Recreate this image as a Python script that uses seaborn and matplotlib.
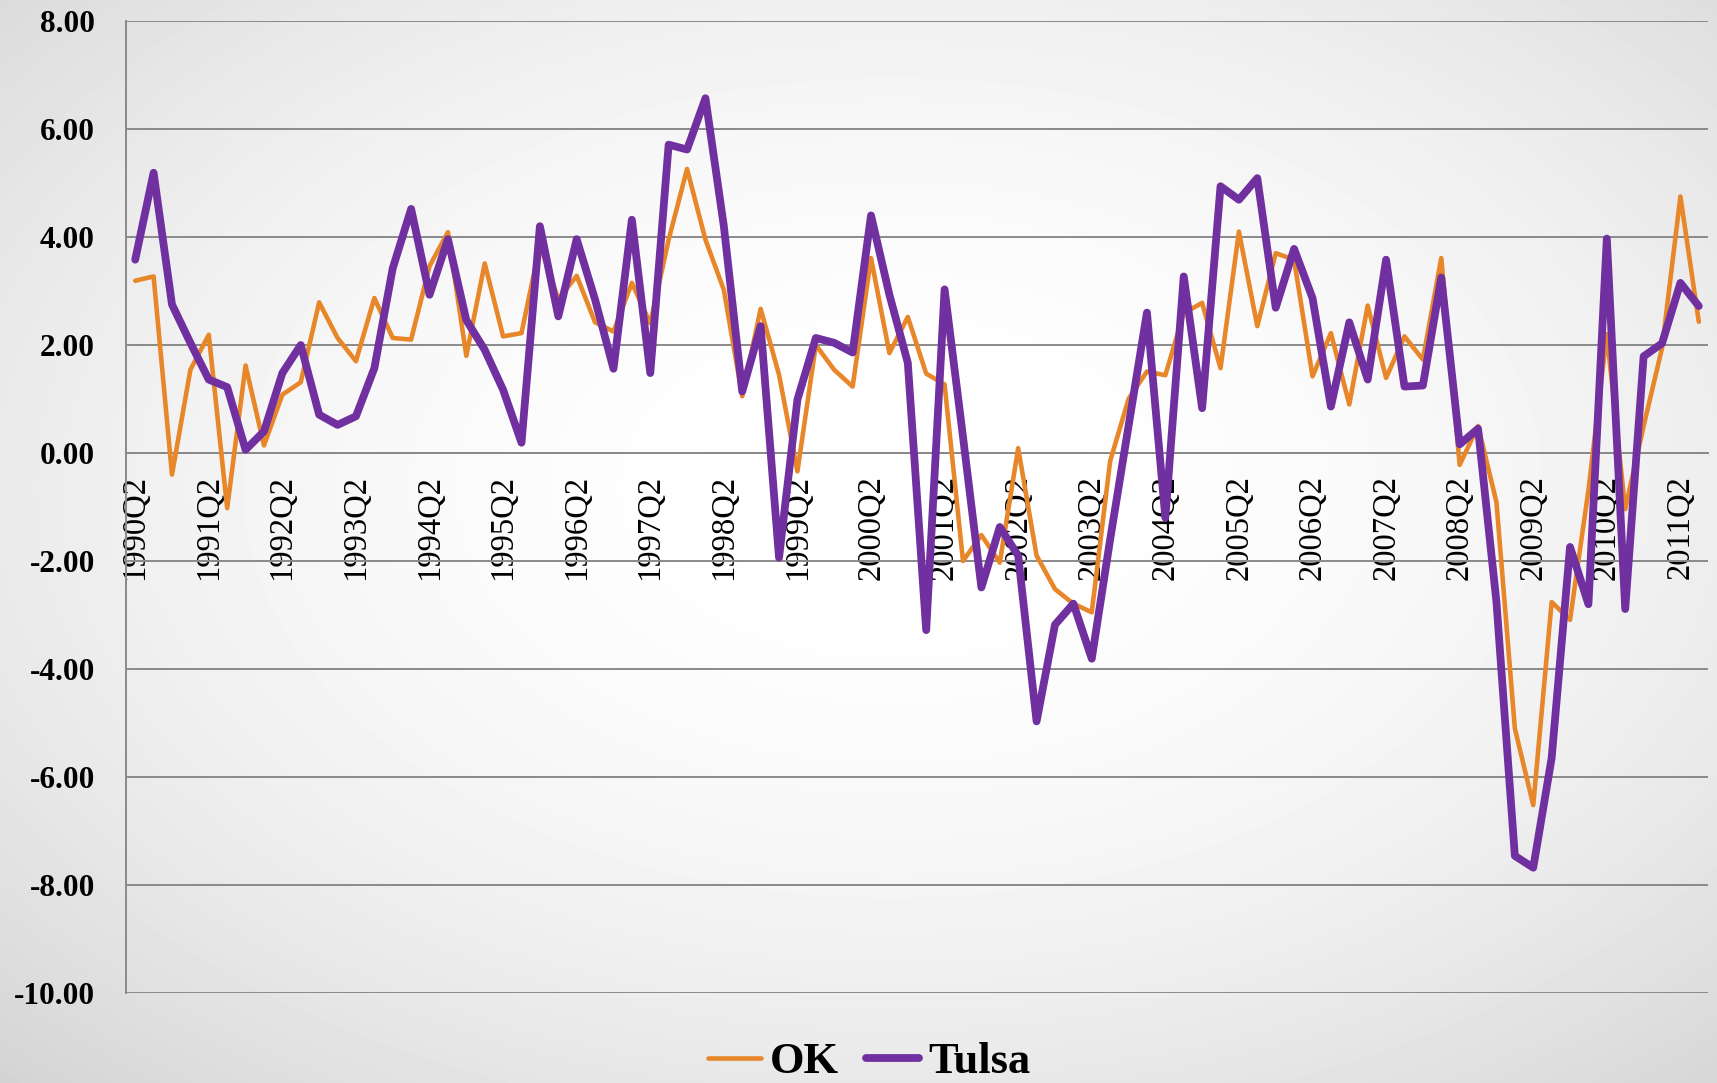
import numpy as np
import pandas as pd
import matplotlib
matplotlib.use("Agg")
import matplotlib.pyplot as plt
import seaborn as sns

# ---------------- data ----------------
quarters = []
for yr in range(1990, 2012):
    for q in range(1, 5):
        quarters.append(f"{yr}Q{q}")
quarters = quarters[1:1 + 86]          # 1990Q2 ... 2011Q3

ok_values = [3.19, 3.27, -0.40, 1.54, 2.19, -1.02, 1.62, 0.14, 1.08, 1.31,
             2.79, 2.13, 1.70, 2.87, 2.13, 2.10, 3.46, 4.09, 1.80, 3.51,
             2.16, 2.22, 3.85, 2.85, 3.28, 2.42, 2.25, 3.15, 2.40, 3.95,
             5.26, 3.95, 3.02, 1.05, 2.67, 1.45, -0.34, 2.00, 1.54, 1.23,
             3.61, 1.85, 2.52, 1.47, 1.27, -2.00, -1.52, -2.03, 0.09, -1.90,
             -2.52, -2.79, -2.95, -0.15, 1.00, 1.51, 1.44, 2.59, 2.78, 1.57,
             4.10, 2.35, 3.70, 3.58, 1.42, 2.22, 0.90, 2.73, 1.39, 2.16,
             1.73, 3.61, -0.22, 0.50, -0.91, -5.10, -6.52, -2.76, -3.09, -0.69,
             2.20, -1.04, 0.50, 1.94, 4.75, 2.43]

tulsa_values = [3.58, 5.19, 2.75, 2.04, 1.36, 1.22, 0.06, 0.40, 1.48, 2.00,
                0.71, 0.52, 0.68, 1.57, 3.42, 4.52, 2.93, 3.96, 2.46, 1.91,
                1.17, 0.19, 4.20, 2.53, 3.96, 2.84, 1.56, 4.32, 1.48, 5.71,
                5.62, 6.57, 4.20, 1.14, 2.35, -1.94, 0.99, 2.13, 2.04, 1.86,
                4.40, 2.93, 1.67, -3.28, 3.03, 0.30, -2.49, -1.37, -1.90, -4.97,
                -3.18, -2.79, -3.81, -1.60, 0.50, 2.60, -1.20, 3.27, 0.83, 4.94,
                4.69, 5.09, 2.69, 3.78, 2.87, 0.86, 2.42, 1.36, 3.58, 1.23,
                1.25, 3.25, 0.16, 0.45, -2.76, -7.46, -7.68, -5.65, -1.74, -2.80,
                3.97, -2.89, 1.79, 2.03, 3.15, 2.72]

y_ticks = [8, 6, 4, 2, 0, -2, -4, -6, -8, -10]

df = pd.DataFrame({"pos": np.arange(len(quarters)),
                   "quarter": quarters,
                   "OK": ok_values,
                   "Tulsa": tulsa_values})

# ---------------- style ----------------
sns.set_style("white")
plt.rcParams["font.family"] = ["Liberation Serif", "DejaVu Serif"]
plt.rcParams["text.color"] = "black"
plt.rcParams["xtick.labelcolor"] = "black"
plt.rcParams["ytick.labelcolor"] = "black"

ORANGE = "#E8862A"
PURPLE = "#7030A0"
GRID = "#8a8a8a"

W, H = 1717, 1083
fig = plt.figure(figsize=(W / 100, H / 100), dpi=100)

# radial background gradient
yy, xx = np.mgrid[0:H, 0:W]
r = np.sqrt(((xx - 0.52 * W) / W) ** 2 + ((yy - 0.45 * H) / H) ** 2)
bg = 1.0 - 0.30 * r ** 2
fig.figimage(bg, cmap="gray", vmin=0, vmax=1, zorder=-10)

ax = fig.add_axes([126 / W, 1 - 993 / H, (1708 - 126) / W, (993 - 21) / H])
ax.set_facecolor("none")

sns.lineplot(data=df, x="pos", y="OK", ax=ax, color=ORANGE, linewidth=3.3,
             label="OK", solid_joinstyle="round", solid_capstyle="round", zorder=3)
sns.lineplot(data=df, x="pos", y="Tulsa", ax=ax, color=PURPLE, linewidth=5.6,
             label="Tulsa", solid_joinstyle="round", solid_capstyle="round", zorder=4)

ax.set_xlim(-0.5, len(quarters) - 0.5)
ax.set_ylim(-10, 8)
ax.set_xlabel("")
ax.set_ylabel("")

# y axis
ax.set_yticks(y_ticks)
ax.set_yticklabels([f"{v:.2f}" for v in y_ticks], fontsize=22.5,
                   fontweight="bold", color="black")
ax.yaxis.grid(True, color=GRID, linewidth=1.4)
ax.xaxis.grid(False)
ax.tick_params(axis="y", length=7.5, width=1.4, color=GRID, pad=15,
               direction="out", labelcolor="black")

# x axis at zero
ax.spines["bottom"].set_position(("data", 0))
for s in ["top", "right"]:
    ax.spines[s].set_visible(False)
for s in ["left", "bottom"]:
    ax.spines[s].set_color(GRID)
    ax.spines[s].set_linewidth(1.4)

ax.set_xticks(np.arange(-0.5, len(quarters) - 2, 4))
ax.set_xticklabels([])
ax.tick_params(axis="x", which="major", length=7.5, width=1.4, color=GRID, direction="out")
ax.set_xticks(np.arange(0, len(quarters), 4), minor=True)
ax.set_xticklabels(quarters[::4], minor=True, rotation=90, fontsize=23.5, color="black")
ax.tick_params(axis="x", which="minor", length=0, pad=16, labelcolor="black")

# legend
leg = ax.legend(loc="center", bbox_to_anchor=(0.506, 0.019), bbox_transform=fig.transFigure,
                ncol=2, frameon=False, prop=dict(weight="bold", size=32),
                handlelength=1.2, handletextpad=0.2, columnspacing=0.6)
for t in leg.get_texts():
    t.set_color("black")

fig.savefig("out.png", dpi=100)
